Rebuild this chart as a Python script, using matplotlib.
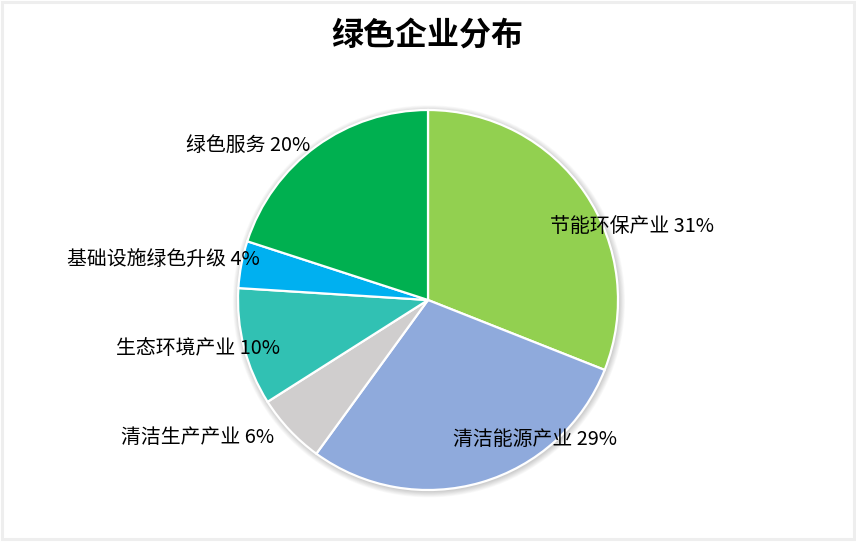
import matplotlib
matplotlib.use("Agg")
import numpy as np
import matplotlib.pyplot as plt
from matplotlib.patches import Rectangle, Circle

plt.rcParams['font.family'] = ['Noto Sans CJK SC', 'DejaVu Sans']

############################
# DATA
############################

categories = ['节能环保产业', '清洁能源产业', '清洁生产产业',
              '生态环境产业', '基础设施绿色升级', '绿色服务']
shares = [31, 29, 6, 10, 4, 20]
colors = ['#92D050', '#8FAADC', '#D0CECE', '#31C1B3', '#00B0F0', '#00B050']

# label anchors in pie-radius units (layout only)
label_pos = [(1.074, 0.389), (0.563, -0.732), (-1.211, -0.726),
             (-1.211, -0.253), (-1.395, 0.211), (-0.947, 0.811)]

############################
# FIGURE
############################

W, H = 856, 551
fig = plt.figure(figsize=(W / 100, H / 100), dpi=100)
fig.patch.set_facecolor('white')

# light frame around the chart area
fig.patches.append(Rectangle((1.5 / W, 1 - 538.5 / H), 852 / W, 537 / H,
                             transform=fig.transFigure, fill=False,
                             edgecolor='#EEEEEE', linewidth=2.2))

cx, cy, r = 428, 300, 190
ax = fig.add_axes([(cx - r) / W, (H - cy - r) / H, 2 * r / W, 2 * r / H])
ax.set_xlim(-1, 1)
ax.set_ylim(-1, 1)
ax.set_aspect('equal')
ax.axis('off')

# soft shadow
for k in range(8):
    rr = 1.0 + 0.004 * (k + 1)
    ax.add_patch(Circle((0.005, -0.007), rr, facecolor='#000000',
                        alpha=0.022, edgecolor='none', zorder=0,
                        clip_on=False))

wedges, _ = ax.pie(shares, colors=colors, startangle=90, counterclock=False,
                   radius=1.0, wedgeprops=dict(edgecolor='white', linewidth=1.6),
                   frame=False)
for w in wedges:
    w.set_clip_on(False)
ax.set_xlim(-1, 1)
ax.set_ylim(-1, 1)

for name, val, (lx, ly) in zip(categories, shares, label_pos):
    ax.text(lx, ly, f'{name} {val}%', ha='center', va='center',
            fontsize=14.3, color='#000000', clip_on=False)

fig.text(427 / W, 1 - 36 / H, '绿色企业分布', ha='center', va='center',
         fontsize=23, fontweight='bold', color='#000000')

fig.savefig('out.png', dpi=100, facecolor='white')
